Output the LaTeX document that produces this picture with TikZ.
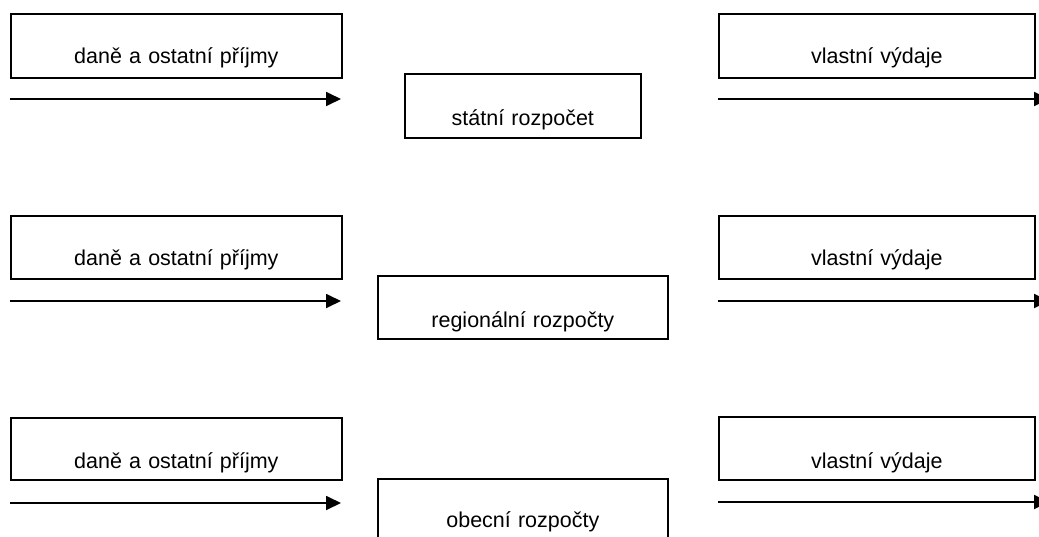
\documentclass[tikz,border=0pt]{standalone}
\usepackage{fontspec}
\setmainfont{Liberation Sans}
\usetikzlibrary{arrows.meta}
\begin{document}
\begin{tikzpicture}[x=1pt,y=-1pt,
  box/.style={draw=black,line width=1.7pt,inner sep=0pt,anchor=north west,align=center,
    font=\fontsize{21.5}{25}\selectfont},
  flow/.style={line width=1.8pt,-{Triangle[length=15pt,width=14pt]}}]
\useasboundingbox (0,0) rectangle (1039,536);
\clip (0,0) rectangle (1039,536);
% row 1
\node[box,text width=331pt,text height=50pt,text depth=14pt] (in1) at (10,13) {daně a ostatní příjmy};
\node[box,text width=236pt,text height=52pt,text depth=12pt] (b1) at (404,73) {státní rozpočet};
\node[box,text width=316pt,text height=50pt,text depth=14pt] (out1) at (718,13) {vlastní výdaje};
% row 2
\node[box,text width=331pt,text height=50pt,text depth=13pt] (in2) at (10,215) {daně a ostatní příjmy};
\node[box,text width=290pt,text height=52pt,text depth=11pt] (b2) at (377,275) {regionální rozpočty};
\node[box,text width=316pt,text height=50pt,text depth=13pt] (out2) at (718,215) {vlastní výdaje};
% row 3
\node[box,text width=331pt,text height=51pt,text depth=11pt] (in3) at (10,417) {daně a ostatní příjmy};
\node[box,text width=290pt,text height=49pt,text depth=14pt] (b3) at (377,478) {obecní rozpočty};
\node[box,text width=316pt,text height=52pt,text depth=11pt] (out3) at (718,416) {vlastní výdaje};
% arrows
\coordinate (a1s) at (10,99);  \coordinate (a1e) at (341,99);
\coordinate (a2s) at (10,301); \coordinate (a2e) at (341,301);
\coordinate (a3s) at (10,503); \coordinate (a3e) at (341,503);
\coordinate (c1s) at (718,99);  \coordinate (c1e) at (1049,99);
\coordinate (c2s) at (718,301); \coordinate (c2e) at (1049,301);
\coordinate (c3s) at (718,502); \coordinate (c3e) at (1049,502);
\draw[flow] (a1s) -- (a1e);
\draw[flow] (a2s) -- (a2e);
\draw[flow] (a3s) -- (a3e);
\draw[flow] (c1s) -- (c1e);
\draw[flow] (c2s) -- (c2e);
\draw[flow] (c3s) -- (c3e);
\end{tikzpicture}
\end{document}
